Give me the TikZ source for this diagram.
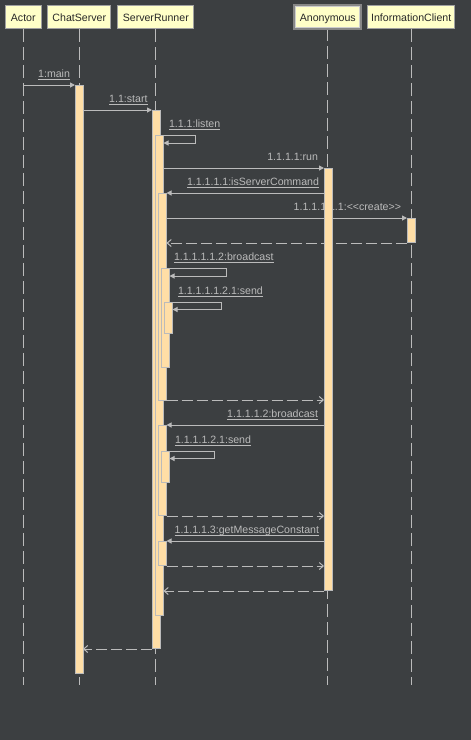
\documentclass[tikz,border=0pt]{standalone}
\usepackage{fontspec}
\newfontfamily\dfont{Liberation Sans}
\usetikzlibrary{arrows.meta}
\pgfdeclarelayer{bgl}
\pgfdeclarelayer{msgs}
\pgfsetlayers{bgl,msgs,main}
\definecolor{bg}{RGB}{60,63,65}
\definecolor{ln}{RGB}{187,187,187}
\definecolor{barfill}{RGB}{255,222,166}
\definecolor{hdrfill}{RGB}{255,255,200}
\definecolor{hdrline}{RGB}{160,160,160}
\definecolor{anonline}{RGB}{135,135,135}
\definecolor{anoninner}{RGB}{205,205,205}
\definecolor{hdrtext}{RGB}{40,40,40}
\tikzset{
  hdr/.style={draw=hdrline, fill=hdrfill, line width=1pt, text=hdrtext,
    font=\dfont\fontsize{10.6}{12}\selectfont, inner sep=0pt, outer sep=0pt,
    minimum height=23.3pt, text height=9.2pt, text depth=0pt},
  life/.style={draw=ln, line width=1pt, dash pattern=on 13pt off 5pt},
  actbar/.style={draw=ln, fill=barfill, line width=1pt, inner sep=0pt,
    outer sep=0pt, minimum width=8pt, anchor=north west},
  msg/.style={draw=ln, line width=1pt, -{Triangle[length=5pt,width=5pt]}},
  ret/.style={draw=ln, line width=1pt, dash pattern=on 11pt off 4pt,
    -{Straight Barb[length=4pt,width=7pt]}},
  lbl/.style={text=ln, font=\dfont\fontsize{10.6}{12}\selectfont,
    inner sep=0pt, outer sep=0pt},
  ul/.style={draw=ln, line width=1pt},
}
\newcommand\actb[4]{\node[actbar, minimum height={#4-#3}] (#1) at (#2,#3) {};}
\newcommand\ulab[4]{\node[lbl, anchor=#2] (#1) at (#3) {#4};
  \draw[ul] ([yshift=-2pt]#1.base west) -- ([yshift=-2pt]#1.base east);}
\newcommand\plab[4]{\node[lbl, anchor=#2] (#1) at (#3) {#4};}
\begin{document}
\begin{tikzpicture}[x=1pt,y=-1pt]
\begin{pgfonlayer}{bgl}
\fill[bg] (0,0) rectangle (471,740);
\end{pgfonlayer}
\useasboundingbox (0,0) rectangle (471,740);

% headers
\node[hdr, minimum width=35.7pt] (hA) at (23.3,17.2) {Actor};
\node[hdr, minimum width=63pt] (hC) at (79.3,17.2) {ChatServer};
\node[hdr, minimum width=76pt] (hS) at (155.8,17.2) {ServerRunner};
\node[hdr, draw=anonline, line width=3pt, minimum width=66pt, minimum height=22.5pt] (hN) at (327.8,17.1) {Anonymous};
\draw[anoninner, line width=1pt] ([xshift=1pt,yshift=-1pt]hN.north west) rectangle ([xshift=-1pt,yshift=1pt]hN.south east);
\node[hdr, minimum width=87.3pt] (hI) at (411.2,17.2) {InformationClient};

% activation bars
\actb{bC}{75}{85}{673}
\actb{bS1}{152}{110}{648}
\actb{bS2}{155.5}{135}{615}
\actb{bS3}{158.5}{193}{400}
\actb{bS4}{161.5}{268}{367}
\actb{bS5}{164.5}{302}{333}
\actb{bS6}{158.5}{425}{515}
\actb{bS7}{161.5}{451}{482}
\actb{bS8}{158.5}{541}{565}
\actb{bN}{324}{168}{590}
\actb{bI}{407}{218}{242}

\begin{pgfonlayer}{msgs}
\foreach \h in {hA,hC,hS,hN,hI} \draw[life] (\h.south) -- (\h.south |- 0,685);

\coordinate (aM) at (hA.south |- 0,85);
\draw[msg] (aM) -- (bC.north west);
\ulab{l1}{base east}{70,77.3}{1:main}

\draw[msg] (bC.east |- 0,110) -- (bS1.north west);
\ulab{l2}{base east}{147.5,102.3}{1.1:start}

\draw[msg] (bS1.east |- 0,135) -| (195,143) -- (bS2.east |- 0,143);
\ulab{l3}{base west}{169,127.3}{1.1.1:listen}

\draw[msg] (bS2.east |- 0,168) -- (bN.north west);
\plab{l4}{base east}{318,160.3}{1.1.1.1:run}

\draw[msg] (bN.west |- 0,193) -- (bS3.north east);
\ulab{l5}{base east}{319,185.3}{1.1.1.1.1:isServerCommand}

\draw[msg] (bS3.east |- 0,218) -- (bI.north west);
\plab{l6}{base east}{401,210.3}{1.1.1.1.1.1:<<create>>}

\draw[ret] (bI.west |- 0,243) -- (bS3.east |- 0,243);

\draw[msg] (bS3.east |- 0,268) -| (226.5,276) -- (bS4.east |- 0,276);
\ulab{l7}{base west}{174,260.3}{1.1.1.1.1.2:broadcast}

\draw[msg] (bS4.east |- 0,302) -| (221.5,309.5) -- (bS5.east |- 0,309.5);
\ulab{l8}{base west}{178,294.3}{1.1.1.1.1.2.1:send}

\draw[ret] (bS3.south east) -- (bN.west |- bS3.south east);

\draw[msg] (bN.west |- 0,425) -- (bS6.north east);
\ulab{l9}{base east}{318,417.3}{1.1.1.1.2:broadcast}

\draw[msg] (bS6.east |- 0,451) -| (214.5,458.5) -- (bS7.east |- 0,458.5);
\ulab{l10}{base west}{175,443.3}{1.1.1.1.2.1:send}

\draw[ret] (bS6.east |- 0,516) -- (bN.west |- 0,516);

\draw[msg] (bN.west |- 0,541) -- (bS8.north east);
\ulab{l11}{base east}{319,533.3}{1.1.1.1.3:getMessageConstant}

\draw[ret] (bS8.east |- 0,566) -- (bN.west |- 0,566);
\draw[ret] (bN.west |- 0,591) -- (bS2.east |- 0,591);
\draw[ret] (bS1.west |- 0,649) -- (bC.east |- 0,649);
\end{pgfonlayer}
\end{tikzpicture}
\end{document}
